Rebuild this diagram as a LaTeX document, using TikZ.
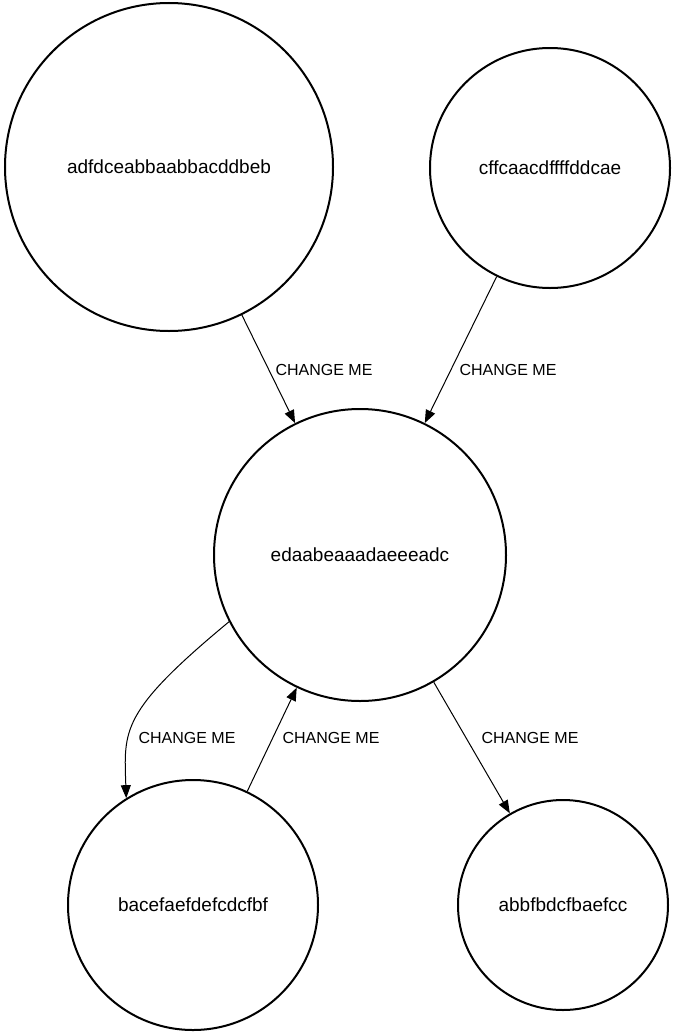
\documentclass[tikz,border=0pt]{standalone}
\usepackage{fontspec}
\setmainfont{Liberation Sans}
\usetikzlibrary{arrows.meta}
\begin{document}
\begin{tikzpicture}[x=1pt,y=-1pt,
  state/.style={circle,draw,line width=2pt,inner sep=0pt,font=\fontsize{19}{22}\selectfont},
  edge/.style={line width=1pt,-{Triangle[length=13pt,width=10pt]}},
  lbl/.style={inner sep=0pt,font=\fontsize{16}{19}\selectfont}]
\useasboundingbox (0,0) rectangle (686,1036);
\node[state,minimum size=328pt] (n1) at (169,167) {adfdceabbaabbacddbeb};
\node[state,minimum size=240pt] (n2) at (550,168) {cffcaacdffffddcae};
\node[state,minimum size=292pt] (n3) at (360,555) {edaabeaaadaeeeadc};
\node[state,minimum size=250pt] (n4) at (193,905) {bacefaefdefcdcfbf};
\node[state,minimum size=210pt] (n5) at (563,905) {abbfbdcfbaefcc};
\draw[edge] (n1) -- (n3);
\draw[edge] (n2) -- (n3);
\draw[edge] (n4) -- (n3);
\draw[edge] (n3) -- (n5);
\draw[edge] (n3.207) .. controls (120,712) and (124,730) .. (n4.122);
\node[lbl] (l1) at (324,370) {CHANGE ME};
\node[lbl] (l2) at (508,370) {CHANGE ME};
\node[lbl] (l3) at (187,738) {CHANGE ME};
\node[lbl] (l4) at (331,738) {CHANGE ME};
\node[lbl] (l5) at (530,738) {CHANGE ME};
\end{tikzpicture}
\end{document}
